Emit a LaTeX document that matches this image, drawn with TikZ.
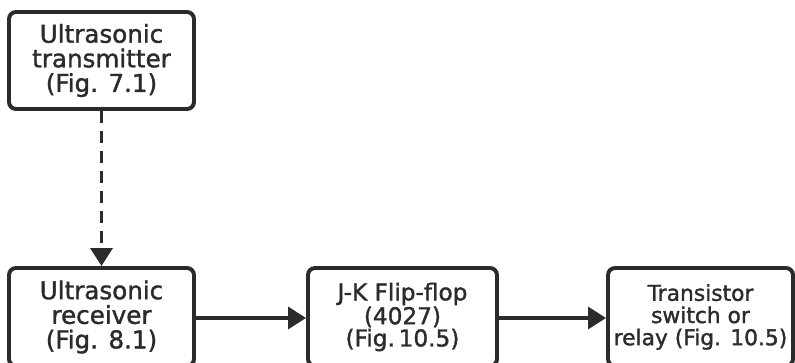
\documentclass[tikz,border=0pt]{standalone}
\usepackage{fontspec}
\setmainfont{DejaVu Sans}[FakeBold=1.4]
\usetikzlibrary{positioning,arrows.meta}
\definecolor{inkLine}{HTML}{2B2B2B}

\begin{document}
\begin{tikzpicture}[
    >={Triangle[length=0.45cm,width=0.55cm]},
    arrow/.style={->,line width=2.5pt,inkLine},
    block/.style={rectangle,rounded corners=5pt,draw=inkLine,line width=2.8pt,
        align=center,inner sep=0pt,text=inkLine},
    blk_big/.style={block,minimum width=4.625cm,font=\fontsize{17.5}{17.5}\selectfont},
    blk_small/.style={block,font=\fontsize{15.5}{15.8}\selectfont},
]
\useasboundingbox (0,0) rectangle (19.875,9.05);

% === SOURCE ===
\node[blk_big,minimum height=2.425cm] (tx) at (2.5375,7.5375)
    {Ultrasonic\\transmitter\\(Fig. 7.1)};

% === CHAIN ===
\node[blk_big,minimum height=2.45cm] (rx) at (2.5375,1.125)
    {Ultrasonic\\receiver\\(Fig. 8.1)};
\node[blk_small,minimum width=4.725cm,minimum height=2.45cm,
    font=\fontsize{16.5}{15.8}\selectfont] (jkff) at (10.0625,1.125)
    {J-K Flip-flop\\(4027)\\(Fig.\,10.5)};
\node[blk_small,minimum width=4.625cm,minimum height=2.45cm] (relay) at (17.5125,1.125)
    {Transistor\\switch or\\relay (Fig. 10.5)};

% === LINKS ===
\draw[arrow,dash pattern=on 0.3cm off 0.2cm] (tx) -- (rx);
\draw[arrow] (rx.east |- 0,1.1) -- (jkff.west |- 0,1.1);
\draw[arrow] (jkff.east |- 0,1.1) -- (relay.west |- 0,1.1);

\end{tikzpicture}
\end{document}
